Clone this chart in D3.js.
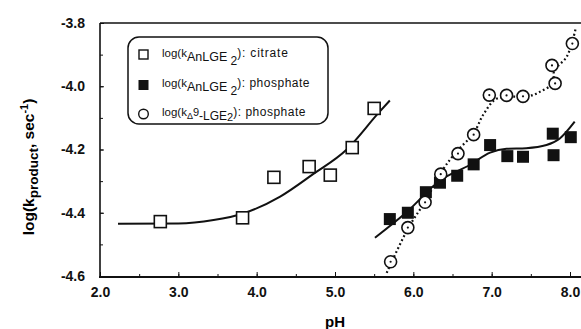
<!DOCTYPE html>
<html>
<head>
<meta charset="utf-8">
<script src="https://cdn.jsdelivr.net/npm/d3@7"></script>
<style>
  body { margin: 0; background: #fff; }
  svg { display: block; }
  .axis text { font-family: "Liberation Sans", Arial, sans-serif; font-weight: bold; font-size: 14px; fill: #111; }
  .axis path, .axis line { stroke: #111; }
</style>
</head>
<body>
<div id="chart"></div>
<script>
// open squares: log(k AnLGE2), citrate
const citratePH = [2.77, 3.82, 4.22, 4.67, 4.94, 5.22, 5.50];
const citrateLog = [-4.428, -4.416, -4.288, -4.254, -4.281, -4.194, -4.070];

// filled squares: log(k AnLGE2), phosphate
const phosPH = [5.70, 5.93, 6.16, 6.34, 6.56, 6.77, 6.98, 7.20, 7.40, 7.78, 7.79, 8.01];
const phosLog = [-4.420, -4.400, -4.335, -4.305, -4.283, -4.247, -4.186, -4.221, -4.223, -4.150, -4.218, -4.161];

// open circles: log(k delta9-LGE2), phosphate
const delta9PH = [5.71, 5.93, 6.15, 6.35, 6.57, 6.77, 6.97, 7.19, 7.40, 7.77, 7.81, 8.03];
const delta9Log = [-4.555, -4.447, -4.367, -4.278, -4.213, -4.153, -4.028, -4.029, -4.032, -3.934, -3.991, -3.865];

// fitted curves
const citrateFitPH = [2.23, 3.0, 3.45, 3.82, 4.3, 4.72, 5.15, 5.55, 5.70];
const citrateFitLog = [-4.435, -4.434, -4.423, -4.403, -4.349, -4.278, -4.200, -4.086, -4.045];
const phosFitPH = [5.51, 5.92, 6.34, 6.72, 6.98, 7.19, 7.44, 7.70, 7.87, 8.06];
const phosFitLog = [-4.479, -4.397, -4.298, -4.249, -4.210, -4.198, -4.196, -4.186, -4.165, -4.112];
const delta9FitPH = [5.66, 5.94, 6.15, 6.36, 6.55, 6.77, 6.89, 7.04, 7.19, 7.45, 7.62, 7.78, 7.80, 7.96, 8.07];
const delta9FitLog = [-4.590, -4.446, -4.365, -4.270, -4.207, -4.149, -4.091, -4.043, -4.033, -4.033, -4.017, -3.990, -3.950, -3.906, -3.820];

const xTicks = [2, 3, 4, 5, 6, 7, 8];
const yTicks = [-4.6, -4.4, -4.2, -4.0, -3.8];

const W = 581, H = 329;
const svg = d3.select("#chart").append("svg").attr("width", W).attr("height", H);

const x = d3.scaleLinear().domain([2, 8]).range([100, 570]);
const y = d3.scaleLinear().domain([-4.6, -3.8]).range([276, 23]);

// axes
svg.append("g")
  .attr("class", "axis")
  .attr("transform", "translate(0,277)")
  .call(d3.axisBottom(x).tickValues(d3.range(2, 8.01, 0.5)).tickSize(-3).tickSizeOuter(0).tickFormat(""))
  .call(g => g.select(".domain").remove());
svg.append("g")
  .attr("class", "axis")
  .attr("transform", "translate(0,277)")
  .call(d3.axisBottom(x).tickValues(xTicks).tickSize(-5).tickSizeOuter(0).tickPadding(10).tickFormat(d => d.toFixed(1)))
  .call(g => g.select(".domain").remove());
svg.append("line")
  .attr("x1", 99).attr("x2", W).attr("y1", 277).attr("y2", 277)
  .attr("stroke", "#111").attr("stroke-width", 2);

svg.append("g")
  .attr("class", "axis")
  .attr("transform", "translate(100,0)")
  .call(d3.axisLeft(y).tickValues(d3.range(-4.6, -3.79, 0.1)).tickSize(-3).tickSizeOuter(0).tickFormat(""))
  .call(g => g.select(".domain").remove());
svg.append("g")
  .attr("class", "axis")
  .attr("transform", "translate(100,0)")
  .call(d3.axisLeft(y).tickValues(yTicks).tickSize(-4).tickSizeOuter(0).tickPadding(15).tickFormat(d => d.toFixed(1)))
  .call(g => g.select(".domain").remove());
svg.append("line")
  .attr("x1", 100).attr("x2", 100).attr("y1", 23).attr("y2", 278)
  .attr("stroke", "#111").attr("stroke-width", 1.6);
svg.append("line")
  .attr("x1", 100).attr("x2", W).attr("y1", 23).attr("y2", 23)
  .attr("stroke", "#111").attr("stroke-width", 1.6);

// axis titles
svg.append("text")
  .attr("x", 335).attr("y", 327)
  .attr("text-anchor", "middle")
  .style("font-family", "Liberation Sans, Arial, sans-serif")
  .style("font-weight", "bold").style("font-size", "15px")
  .text("pH");

const yt = svg.append("text")
  .attr("transform", "translate(34,167) rotate(-90)")
  .attr("text-anchor", "middle")
  .style("font-family", "Liberation Sans, Arial, sans-serif")
  .style("font-weight", "bold").style("font-size", "15.5px");
yt.append("tspan").text("log(k");
yt.append("tspan").attr("dy", 4).style("font-size", "13.5px").text("product");
yt.append("tspan").attr("dy", -4).text(", sec");
yt.append("tspan").attr("dy", -6).style("font-size", "11px").text("-1");
yt.append("tspan").attr("dy", 6).text(")");

// curves
const line = d3.line().x(d => x(d[0])).y(d => y(d[1]));
const zip = (a, b) => a.map((v, i) => [v, b[i]]);

svg.append("path")
  .datum(zip(citrateFitPH, citrateFitLog))
  .attr("d", line.curve(d3.curveMonotoneX))
  .attr("fill", "none").attr("stroke", "#111").attr("stroke-width", 2);
svg.append("path")
  .datum(zip(phosFitPH, phosFitLog))
  .attr("d", line.curve(d3.curveMonotoneX))
  .attr("fill", "none").attr("stroke", "#111").attr("stroke-width", 2);
svg.append("path")
  .datum(zip(delta9FitPH, delta9FitLog))
  .attr("d", line.curve(d3.curveCatmullRom))
  .attr("fill", "none").attr("stroke", "#111").attr("stroke-width", 2.2)
  .attr("stroke-dasharray", "1.8,2.6");

// markers
const sq = 12;
svg.append("g").selectAll("rect")
  .data(zip(citratePH, citrateLog))
  .join("rect")
  .attr("x", d => x(d[0]) - sq / 2).attr("y", d => y(d[1]) - sq / 2)
  .attr("width", sq).attr("height", sq)
  .attr("fill", "#fff").attr("stroke", "#111").attr("stroke-width", 1.6);

svg.append("g").selectAll("rect")
  .data(zip(phosPH, phosLog))
  .join("rect")
  .attr("x", d => x(d[0]) - sq / 2).attr("y", d => y(d[1]) - sq / 2)
  .attr("width", sq).attr("height", sq)
  .attr("fill", "#111");

const circ = svg.append("g").selectAll("g")
  .data(zip(delta9PH, delta9Log))
  .join("g")
  .attr("transform", d => `translate(${x(d[0])},${y(d[1])})`);
circ.append("circle").attr("r", 6)
  .attr("fill", "#fff").attr("stroke", "#111").attr("stroke-width", 1.6);
circ.append("circle").attr("r", 1.1).attr("fill", "#111");

// legend
const lg = svg.append("g");
lg.append("rect")
  .attr("x", 128).attr("y", 37).attr("width", 200).attr("height", 87)
  .attr("rx", 11).attr("ry", 11)
  .attr("fill", "#fff").attr("stroke", "#111").attr("stroke-width", 1.5);
lg.append("rect").attr("x", 139).attr("y", 50).attr("width", 9).attr("height", 9)
  .attr("fill", "#fff").attr("stroke", "#111").attr("stroke-width", 1.4);
lg.append("rect").attr("x", 138.5).attr("y", 80).attr("width", 10).attr("height", 10)
  .attr("fill", "#111");
lg.append("circle").attr("cx", 143.5).attr("cy", 114).attr("r", 4.8)
  .attr("fill", "#fff").attr("stroke", "#111").attr("stroke-width", 1.4);

const legendRow = (yy, parts) => {
  const t = lg.append("text")
    .attr("x", 162).attr("y", yy)
    .style("font-family", "Liberation Sans, Arial, sans-serif")
    .attr("fill", "#111");
  parts.forEach(p => {
    t.append("tspan").attr("dy", p.dy || 0)
      .style("font-size", p.fs || "12px")
      .style("letter-spacing", p.ls || "0px")
      .text(p.t);
  });
};
legendRow(57, [
  { t: "log(k", fs: "11.5px" }, { t: "AnLGE", dy: 4, fs: "12.5px" }, { t: " 2", dy: 4, fs: "12px" },
  { t: "): citrate", dy: -8, fs: "12px", ls: "0.8px" }
]);
legendRow(87, [
  { t: "log(k", fs: "11.5px" }, { t: "AnLGE", dy: 4, fs: "12.5px" }, { t: " 2", dy: 4, fs: "12px" },
  { t: "): phosphate", dy: -8, fs: "12px", ls: "0.5px" }
]);
legendRow(116, [
  { t: "log(k", fs: "11.5px" }, { t: "Δ", dy: 3, fs: "9px" }, { t: "9", dy: -3, fs: "11px" },
  { t: "-LGE", dy: 4, fs: "12px" }, { t: "2", dy: 1, fs: "11px" },
  { t: "): phosphate", dy: -5, fs: "12px", ls: "0.5px" }
]);
</script>
</body>
</html>
